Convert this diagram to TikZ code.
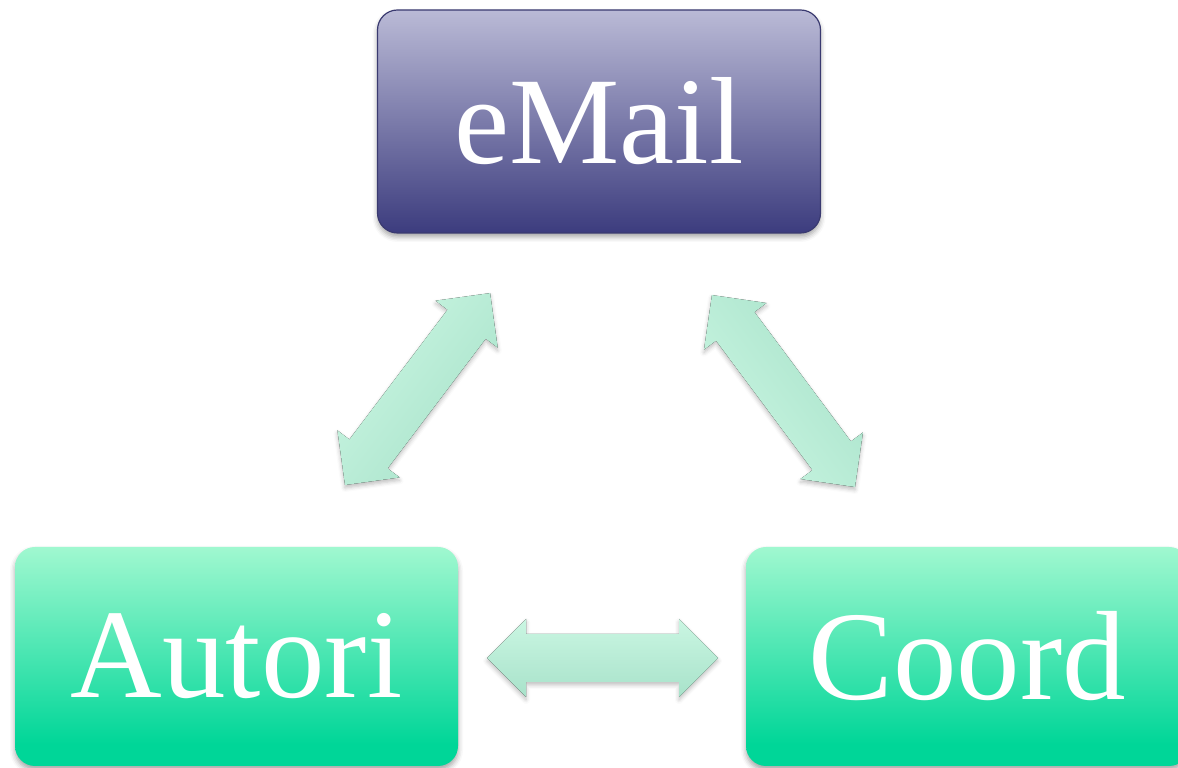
\documentclass[tikz,border=0pt]{standalone}
\usepackage{fontspec}
\setmainfont{Liberation Serif}
\usetikzlibrary{shadows.blur}

\definecolor{mailtop}{RGB}{186,186,214}
\definecolor{mailbot}{RGB}{60,60,126}
\definecolor{mailedge}{RGB}{58,58,112}
\definecolor{greentop}{RGB}{160,248,208}
\definecolor{greenbot}{RGB}{0,214,152}
\definecolor{arrtop}{RGB}{202,246,226}
\definecolor{arrbot}{RGB}{168,226,202}

% green fill: light at the top, full green over the lowest tenth
\pgfdeclareverticalshading{greenfill}{100bp}{%
  color(0bp)=(greenbot); color(30bp)=(greenbot);
  color(75bp)=(greentop); color(100bp)=(greentop)}

% fat double-headed arrow: start coordinate, direction angle, length
\newcommand\fatarrow[3]{%
  \begin{scope}[shift={(#1)}, rotate=#2]
    \fill[arrowbody, shading angle=#2]
      (0,0) -- (39,39) -- (39,24) -- (#3-39,24) -- (#3-39,39) -- (#3,0)
      -- (#3-39,-39) -- (#3-39,-24) -- (39,-24) -- (39,-39) -- cycle;
  \end{scope}}

\begin{document}
\begin{tikzpicture}[x=1pt, y=1pt,
  box/.style={rectangle, rounded corners=20pt, minimum width=443pt,
    inner sep=0pt, text=white,
    blur shadow={shadow xshift=0pt, shadow yshift=-4pt,
      shadow blur radius=5pt, shadow opacity=35}},
  mailbox/.style={box, minimum height=223pt, draw=mailedge, line width=1.2pt,
    top color=mailtop, bottom color=mailbot,
    font=\fontsize{124}{124}\selectfont},
  greenbox/.style={box, minimum height=219pt, shading=greenfill,
    font=\fontsize{127}{127}\selectfont},
  arrowbody/.style={top color=arrtop, bottom color=arrbot,
    blur shadow={shadow xshift=0pt, shadow yshift=-3pt,
      shadow blur radius=4pt, shadow opacity=25}}
]
\useasboundingbox (0,0) rectangle (1178,768);

% three boxes
\node[mailbox]  (mail)   at (599,646.5) {\raisebox{2pt}{eMail}};
\node[greenbox] (autori) at (236.5,111.5) {Autori};
\node[greenbox] (coord)  at (967.5,111.5) {Coord};

% arrow end points between the boxes
\coordinate (am) at (345,283);
\coordinate (ac) at (855,281);
\coordinate (h)  at (487,110);

% Autori <-> eMail
\fatarrow{am}{52.9}{240.6}
% Coord <-> eMail
\fatarrow{ac}{126.7}{239.4}
% Autori <-> Coord
\fatarrow{h}{0}{231}
\end{tikzpicture}
\end{document}
